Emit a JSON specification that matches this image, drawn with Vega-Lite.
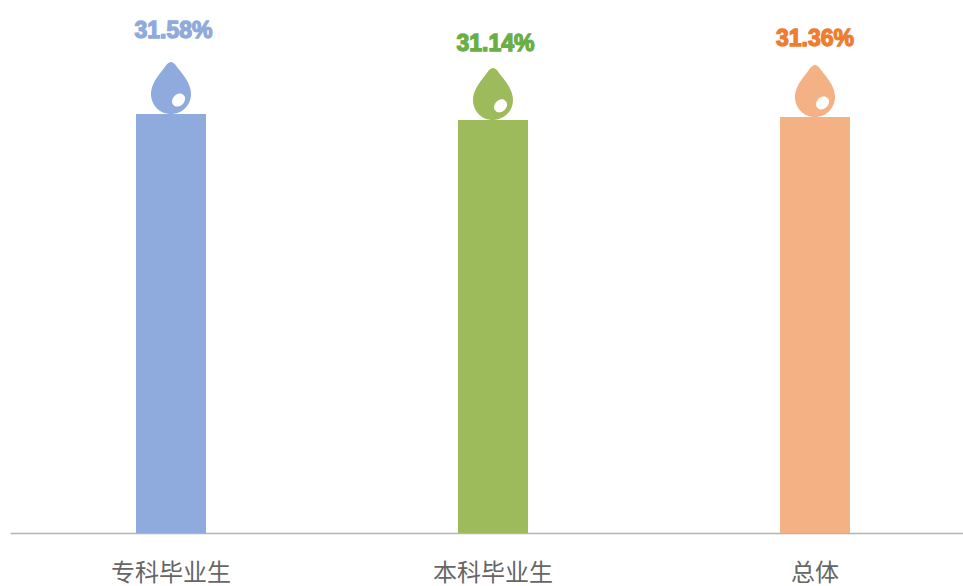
{
"$schema":"https://vega.github.io/schema/vega-lite/v6.json",
"width":953,"height":533,
"autosize":{"type":"none"},
"padding":{"left":10,"top":0,"right":0,"bottom":53},
"background":"#ffffff",
"config":{"view":{"stroke":null}},
"data":{"values":[
{"group":"专科毕业生","rate":0.3158},
{"group":"本科毕业生","rate":0.3114},
{"group":"总体","rate":0.3136}]},
"encoding":{
"x":{"field":"group","type":"nominal","sort":null,"title":null,
"scale":{"paddingInner":0.7826,"paddingOuter":0.3711,"align":0.5272},
"axis":{"ticks":false,"labelAngle":0,"labelFont":"Noto Sans CJK SC","labelFontSize":24,"labelColor":"#666666","labelPadding":28,"domainColor":"#b4b4b4","domainWidth":1.3,"grid":false}},
"y":{"field":"rate","type":"quantitative","title":null,"axis":null,"scale":{"domain":[0,0.4018],"nice":false}},
"color":{"field":"group","type":"nominal","legend":null,"sort":null,"scale":{"domain":["专科毕业生","本科毕业生","总体"],"range":["#8faadc","#9dbb5a","#f4b183"]}}
},
"layer":[
{"mark":{"type":"bar"}},
{"mark":{"type":"point","filled":true,"opacity":1,"size":2704,"shape":"M0,-2 C0.12,-2 0.2,-1.85 0.3,-1.72 C0.55,-1.42 0.77,-1.1 0.77,-0.77 C0.77,-0.34 0.43,0 0,0 C-0.43,0 -0.77,-0.34 -0.77,-0.77 C-0.77,-1.1 -0.55,-1.42 -0.3,-1.72 C-0.2,-1.85 -0.12,-2 0,-2 Z M0.1,-0.35 A0.27,0.2,-45,1,0,0.48,-0.73 A0.27,0.2,-45,1,0,0.1,-0.35 Z"}},
{"transform":[{"filter":"datum.group==='专科毕业生'"}],
"mark":{"type":"text","font":"Liberation Sans","fontWeight":"bold","fontSize":23,"baseline":"alphabetic","dx":2.5,"dy":-76,"stroke":"#8faadc","strokeWidth":1.3},
"encoding":{"text":{"field":"rate","type":"quantitative","format":".2%"},"color":{"value":"#8faadc"}}},
{"transform":[{"filter":"datum.group==='本科毕业生'"}],
"mark":{"type":"text","font":"Liberation Sans","fontWeight":"bold","fontSize":23,"baseline":"alphabetic","dx":2.5,"dy":-69,"stroke":"#6aae47","strokeWidth":1.3},
"encoding":{"text":{"field":"rate","type":"quantitative","format":".2%"},"color":{"value":"#6aae47"}}},
{"transform":[{"filter":"datum.group==='总体'"}],
"mark":{"type":"text","font":"Liberation Sans","fontWeight":"bold","fontSize":23,"baseline":"alphabetic","dx":0,"dy":-71,"stroke":"#ed7d31","strokeWidth":1.3},
"encoding":{"text":{"field":"rate","type":"quantitative","format":".2%"},"color":{"value":"#ed7d31"}}}
]
}
